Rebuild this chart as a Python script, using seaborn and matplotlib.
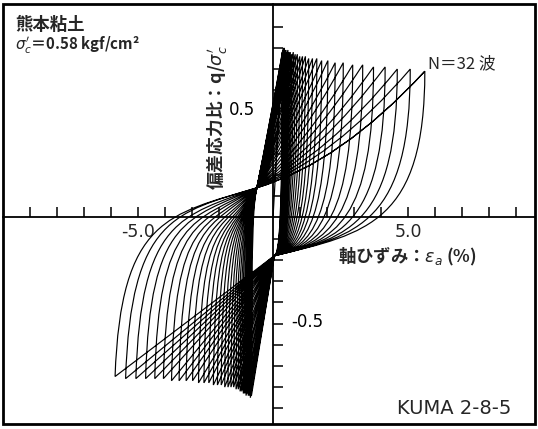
import numpy as np
import matplotlib
matplotlib.use("Agg")
import matplotlib.pyplot as plt
import seaborn as sns
from matplotlib.path import Path
from matplotlib.patches import PathPatch, Rectangle

# ---- data (cyclic triaxial test, 32 cycles) ----
cycles = list(range(1, 33))
eps_pos_peak = [0.34, 0.36, 0.38, 0.40, 0.42, 0.45, 0.48, 0.51, 0.55, 0.59, 0.64, 0.69,
                0.75, 0.82, 0.90, 0.99, 1.09, 1.20, 1.32, 1.46, 1.62, 1.80, 2.03, 2.30,
                2.60, 2.95, 3.32, 3.72, 4.15, 4.60, 5.08, 5.62]
q_pos_peak = [0.78, 0.79, 0.80, 0.79, 0.80, 0.79, 0.79, 0.78, 0.79, 0.78, 0.78, 0.77,
              0.78, 0.77, 0.77, 0.76, 0.76, 0.76, 0.75, 0.75, 0.75, 0.74, 0.74, 0.73,
              0.73, 0.72, 0.72, 0.71, 0.71, 0.70, 0.70, 0.69]
eps_neg_peak = [-0.80, -0.84, -0.88, -0.92, -0.96, -1.00, -1.05, -1.10, -1.16, -1.22,
                -1.29, -1.37, -1.46, -1.56, -1.67, -1.79, -1.92, -2.06, -2.21, -2.38,
                -2.56, -2.76, -2.98, -3.22, -3.48, -3.76, -4.06, -4.38, -4.72, -5.08,
                -5.46, -5.85]
q_neg_peak = [-0.84, -0.85, -0.84, -0.84, -0.83, -0.84, -0.83, -0.83, -0.82, -0.82,
              -0.81, -0.81, -0.80, -0.80, -0.80, -0.80, -0.79, -0.79, -0.79, -0.78,
              -0.78, -0.78, -0.77, -0.77, -0.77, -0.77, -0.76, -0.76, -0.76, -0.76,
              -0.76, -0.75]
center_pos = (-0.6, 0.14)    # where the reloading branches converge
center_neg = (0.05, -0.18)   # where the unloading branches converge

x_ticks = [-9, -8, -7, -6, -5, -4, -3, -2, -1, 1, 2, 3, 4, 5, 6, 7, 8, 9]
y_ticks = [-0.9, -0.8, -0.7, -0.6, -0.5, -0.4, -0.3, -0.2, -0.1,
           0.1, 0.2, 0.3, 0.4, 0.5, 0.6, 0.7, 0.8, 0.9]

sns.set_theme(style="white")
plt.rcParams['font.family'] = ['Noto Sans CJK JP', 'DejaVu Sans']
plt.rcParams['mathtext.fontset'] = 'dejavusans'

fig = plt.figure(figsize=(5.38, 4.29), dpi=100)
ax = fig.add_axes([3 / 538, 5 / 429, 532 / 538, 420 / 429])
ax.set_xlim(-10.0, 9.7)
ax.set_ylim(-0.974, 1.007)

# ---- hysteresis path ----
n = len(cycles)
cpx, cpy = center_pos
cnx, cny = center_neg


def reload_ctrl(k):
    ep, qp = eps_pos_peak[k], q_pos_peak[k]
    mx, my = 0.5 * (cpx + ep), 0.5 * (cpy + qp)
    return (mx, my - 0.025 * (ep - cpx))


verts = [(0.0, 0.0), (eps_pos_peak[0], q_pos_peak[0])]
codes = [Path.MOVETO, Path.LINETO]
for i in range(n):
    ep, qp = eps_pos_peak[i], q_pos_peak[i]
    en, qn = eps_neg_peak[i], q_neg_peak[i]
    # unloading: from compression peak down to the convergence point
    d = 0.62 * (ep - cnx)
    verts += [(ep, -0.02), (cnx + d, cny + d * 0.03), (cnx, cny)]
    codes += [Path.CURVE4] * 3
    verts.append((en, qn)); codes.append(Path.LINETO)
    # reloading: from extension peak up to the convergence point
    j = min(i + 1, n - 1)
    qx, qy = reload_ctrl(j)
    s = (qy - cpy) / (qx - cpx)
    d = 0.62 * (cpx - en)
    verts += [(en + 0.04 * (cpx - en), 0.0), (cpx - d, cpy - d * s), (cpx, cpy)]
    codes += [Path.CURVE4] * 3
    verts += [(qx, qy), (eps_pos_peak[j], q_pos_peak[j])]
    codes += [Path.CURVE3] * 2
ax.add_patch(PathPatch(Path(verts, codes), fill=False, edgecolor='black',
                       linewidth=0.85, joinstyle='miter'))

# ---- axes through the origin ----
for side in ['top', 'right']:
    ax.spines[side].set_visible(False)
ax.spines['left'].set_position(('data', 0))
ax.spines['bottom'].set_position(('data', 0))
for side in ['left', 'bottom']:
    ax.spines[side].set_color('black')
    ax.spines[side].set_linewidth(1.3)
ax.add_patch(Rectangle((0, 0), 1, 1, transform=ax.transAxes, fill=False,
                       edgecolor='black', linewidth=2.0, clip_on=False, zorder=5))

ax.set_xticks(x_ticks)
ax.set_xticklabels(['-5.0' if t == -5 else ('5.0' if t == 5 else '') for t in x_ticks])
ax.set_yticks(y_ticks)
ax.set_yticklabels([''] * len(y_ticks))
ax.tick_params(axis='x', direction='in', length=7.5, width=1.1, color='black',
               labelsize=12.5, pad=4, bottom=True)
ax.tick_params(axis='y', direction='in', length=7.5, width=1.1, color='black',
               left=True)
for lab in ax.get_xticklabels():
    lab.set_family(['DejaVu Sans'])

txt = dict(color='black', family=['DejaVu Sans'])
ax.text(-1.15, 0.507, '0.5', ha='center', va='center', fontsize=12, **txt)
ax.text(1.26, -0.493, '-0.5', ha='center', va='center', fontsize=12, **txt)

cjk = ['Noto Sans CJK JP', 'DejaVu Sans']
ax.text(-2.1, 0.47, '偏差応力比：q/$\\sigma_c^{\\prime}$', rotation=90,
        ha='center', va='center', fontsize=12.8, fontweight='bold', family=cjk)
ax.text(2.41, -0.186, '軸ひずみ：$\\varepsilon_a$ (%)', ha='left', va='center',
        fontsize=12.5, fontweight='bold', family=cjk)
ax.text(5.74, 0.724, 'N＝32 波', ha='left', va='center', fontsize=12, family=cjk)
ax.text(4.59, -0.903, 'KUMA 2-8-5', ha='left', va='center', fontsize=14,
        family=['DejaVu Sans'])
ax.text(0.0226, 0.95, '熊本粘土', transform=ax.transAxes, ha='left', va='center',
        fontsize=12.5, fontweight='bold', family=cjk)
ax.text(0.0226, 0.902, '$\\sigma_c^{\\prime}$＝0.58 kgf/cm²', transform=ax.transAxes,
        ha='left', va='center', fontsize=10.8, fontweight='bold', family=cjk)

fig.savefig('out.png', dpi=100)
